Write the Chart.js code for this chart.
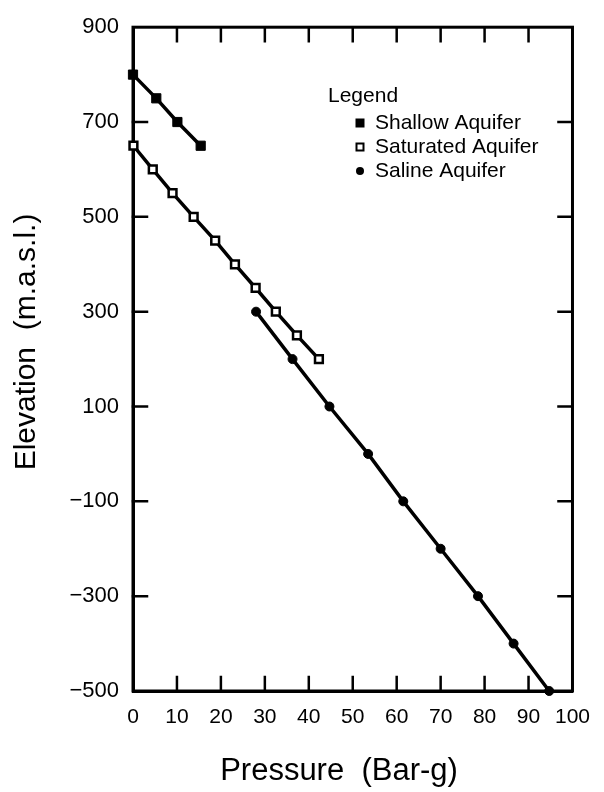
<!DOCTYPE html>
<html>
<head>
<meta charset="utf-8">
<script src="https://cdn.jsdelivr.net/npm/chart.js@4.4.1/dist/chart.umd.min.js"></script>
<style>
  html, body { margin: 0; padding: 0; background: #fff; }
  #wrap { width: 604px; height: 792px; }
</style>
</head>
<body>
<div id="wrap"><canvas id="pressureChart" width="604" height="792"></canvas></div>
<script>
// values
const shallowPressure = [0, 5.3, 10.1, 15.4];
const shallowElevation = [800, 750, 700, 650];

const saturatedPressure = [0.1, 4.5, 9.0, 13.8, 18.7, 23.2, 27.9, 32.5, 37.3, 42.3];
const saturatedElevation = [650, 600, 550, 500, 450, 400, 350, 300, 250, 200];

const salinePressure = [28, 36.3, 44.7, 53.5, 61.5, 70.0, 78.5, 86.6, 94.7];
const salineElevation = [300, 200, 100, 0, -100, -200, -300, -400, -500];

const xTicks = [0, 10, 20, 30, 40, 50, 60, 70, 80, 90, 100];
const yTicks = [900, 700, 500, 300, 100, -100, -300, -500];

const seriesNames = ["Shallow Aquifer", "Saturated Aquifer", "Saline Aquifer"];
const xTitle = "Pressure  (Bar-g)";
const yTitle = "Elevation  (m.a.s.l.)";

const FONT = "'Liberation Sans', Arial, sans-serif";

function toPoints(xs, ys) {
    return xs.map((x, i) => ({ x: x, y: ys[i] }));
}

// frame on all sides plus inward tick marks
const framePlugin = {
    id: 'frame',
    beforeDatasetsDraw(chart) {
        const { ctx, chartArea } = chart;
        const xs = chart.scales.x, ys = chart.scales.y;
        const tick = 14;
        ctx.save();
        ctx.strokeStyle = '#000';
        ctx.lineWidth = 3;
        ctx.lineCap = 'square';
        ctx.strokeRect(chartArea.left, chartArea.top, chartArea.right - chartArea.left, chartArea.bottom - chartArea.top);
        ctx.lineWidth = 2.5;
        ctx.beginPath();
        xTicks.slice(1, -1).forEach(v => {
            const px = xs.getPixelForValue(v);
            ctx.moveTo(px, chartArea.bottom);
            ctx.lineTo(px, chartArea.bottom - tick);
            ctx.moveTo(px, chartArea.top);
            ctx.lineTo(px, chartArea.top + tick);
        });
        yTicks.slice(1, -1).forEach(v => {
            const py = ys.getPixelForValue(v);
            ctx.moveTo(chartArea.left, py);
            ctx.lineTo(chartArea.left + tick, py);
            ctx.moveTo(chartArea.right, py);
            ctx.lineTo(chartArea.right - tick, py);
        });
        ctx.stroke();
        ctx.restore();
    }
};

// axis titles and the legend box inside the plot
const labelsPlugin = {
    id: 'labels',
    afterDraw(chart) {
        const { ctx } = chart;
        ctx.save();
        ctx.fillStyle = '#000';
        ctx.textBaseline = 'middle';
        ctx.textAlign = 'center';

        ctx.font = "31px " + FONT;
        ctx.fillText(xTitle, 339, 771);

        ctx.save();
        ctx.translate(27, 342);
        ctx.rotate(-Math.PI / 2);
        ctx.font = "30px " + FONT;
        ctx.fillText(yTitle, 0, 0);
        ctx.restore();

        ctx.textAlign = 'left';
        const markX = 360, textX = 375;
        ctx.font = "21px " + FONT;
        ctx.fillText("Legend", 328, 96);
        const rows = [123, 147, 171];
        chart.data.datasets.forEach((ds, i) => {
            const y = rows[i];
            ctx.fillText(ds.label, textX, y);
            ctx.lineWidth = 2;
            ctx.strokeStyle = '#000';
            if (ds.pointStyle === 'circle') {
                ctx.beginPath();
                ctx.arc(markX, y, 4, 0, Math.PI * 2);
                ctx.fill();
            } else if (ds.pointBackgroundColor === '#fff') {
                ctx.fillStyle = '#fff';
                ctx.fillRect(markX - 3.5, y - 3.5, 7, 7);
                ctx.strokeRect(markX - 3.5, y - 3.5, 7, 7);
                ctx.fillStyle = '#000';
            } else {
                ctx.fillRect(markX - 4.5, y - 4.5, 9, 9);
            }
        });
        ctx.restore();
    }
};

new Chart(document.getElementById("pressureChart"), {
    type: 'line',
    data: {
        datasets: [{
                label: seriesNames[0],
                data: toPoints(shallowPressure, shallowElevation),
                borderColor: '#000',
                borderWidth: 3.5,
                pointStyle: 'rect',
                pointRadius: 6.5,
                pointBackgroundColor: '#000',
                pointBorderColor: '#000',
                pointBorderWidth: 1,
                tension: 0,
                clip: false
            },
            {
                label: seriesNames[1],
                data: toPoints(saturatedPressure, saturatedElevation),
                borderColor: '#000',
                borderWidth: 3.5,
                pointStyle: 'rect',
                pointRadius: 5.5,
                pointBackgroundColor: '#fff',
                pointBorderColor: '#000',
                pointBorderWidth: 2.5,
                tension: 0,
                clip: false
            },
            {
                label: seriesNames[2],
                data: toPoints(salinePressure, salineElevation),
                borderColor: '#000',
                borderWidth: 3.5,
                pointStyle: 'circle',
                pointRadius: 4.5,
                pointBackgroundColor: '#000',
                pointBorderColor: '#000',
                pointBorderWidth: 1,
                tension: 0,
                clip: false
            }
        ]
    },
    options: {
        responsive: false,
        animation: false,
        layout: {
            padding: { left: 0, right: 25, top: 15, bottom: 0 }
        },
        plugins: {
            legend: { display: false },
            tooltip: { enabled: false }
        },
        scales: {
            x: {
                type: 'linear',
                min: 0,
                max: 100,
                afterFit: s => { s.height = 101; },
                afterBuildTicks: s => { s.ticks = xTicks.map(v => ({ value: v })); },
                grid: { display: false, drawTicks: false },
                border: { display: true, color: '#000', width: 3 },
                ticks: {
                    color: '#000',
                    padding: 14,
                    maxRotation: 0,
                    font: { family: FONT, size: 21 }
                },
                title: { display: false }
            },
            y: {
                type: 'linear',
                min: -500,
                max: 900,
                afterFit: s => { s.width = 133; },
                afterBuildTicks: s => { s.ticks = yTicks.map(v => ({ value: v })); },
                grid: { display: false, drawTicks: false },
                border: { display: true, color: '#000', width: 3 },
                ticks: {
                    color: '#000',
                    padding: 14,
                    font: { family: FONT, size: 22 },
                    callback: v => String(v).replace('-', '\u2212')
                },
                title: { display: false }
            }
        }
    },
    plugins: [framePlugin, labelsPlugin]
});
</script>
</body>
</html>
